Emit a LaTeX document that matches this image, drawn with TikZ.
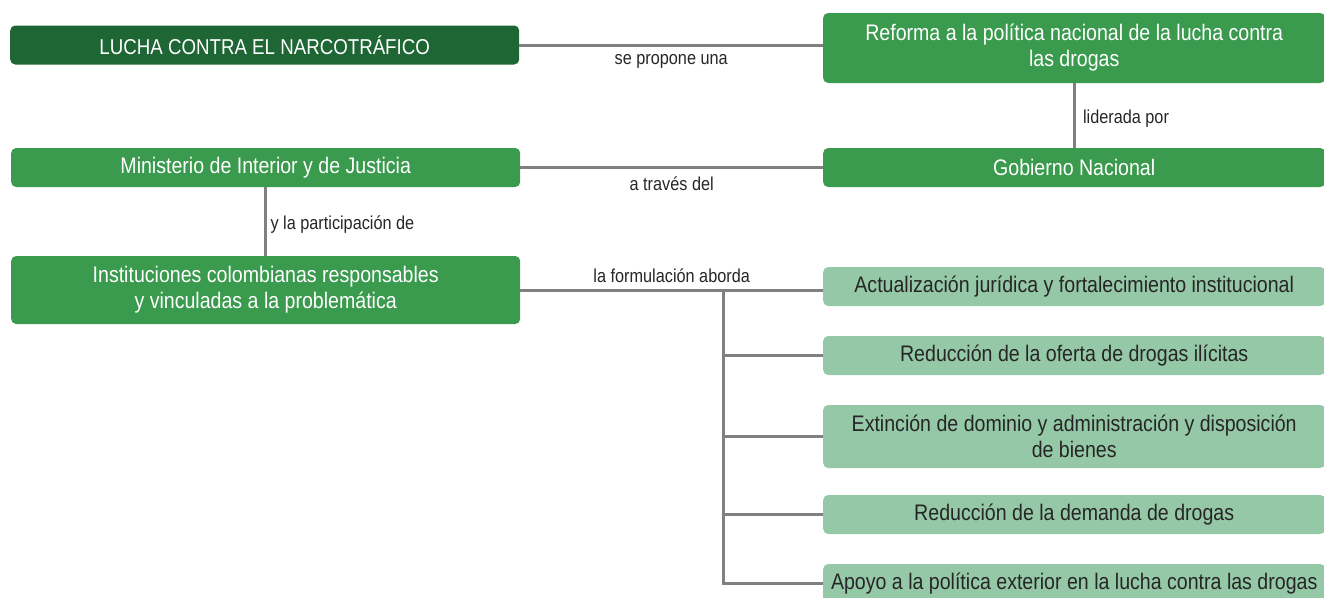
\documentclass[tikz,border=0pt]{standalone}
\usepackage{fontspec}
\setmainfont{Liberation Sans}[FakeStretch=0.87]
\usepackage{tikz}

\definecolor{verdeoscuro}{HTML}{1E6634}
\definecolor{verde}{HTML}{3A9A4D}
\definecolor{verdeclaro}{HTML}{95C8A6}
\definecolor{gris}{HTML}{808080}

\tikzset{
  caja/.style={rounded corners=5pt, minimum height=39pt, minimum width=509pt, inner sep=0pt,
    align=center, font=\fontsize{22.5}{26}\selectfont, text=white, anchor=west},
  cajaoscura/.style={caja, fill=verdeoscuro, font=\fontsize{21.5}{26}\selectfont},
  cajaverde/.style={caja, fill=verde},
  cajaclara/.style={caja, fill=verdeclaro, text=black!85},
  derecha/.style={minimum width=502pt},
  enlace/.style={draw=gris, line width=3pt},
  etiqueta/.style={font=\fontsize{18.7}{22}\selectfont, text=black!85}
}

\begin{document}
\begin{tikzpicture}[x=1pt,y=-1pt]
                \useasboundingbox (0,0) rectangle (1324,597);
                \clip (0,0) rectangle (1324,597);

                % Draw the boxes on the left
                \node[cajaoscura] (lucha) at (10,45) {LUCHA CONTRA EL NARCOTRÁFICO};
                \node[cajaverde] (ministerio) at (11,167.5) {Ministerio de Interior y de Justicia};
                \node[cajaverde, minimum height=68pt] (instituciones) at (11,290) {Instituciones colombianas responsables\\y vinculadas a la problemática};

                % Draw the boxes on the right
                \node[cajaverde, derecha, minimum height=70pt] (reforma) at (823,48) {Reforma a la política nacional de la lucha contra\\las drogas};
                \node[cajaverde, derecha] (gobierno) at (823,167.5) {Gobierno Nacional};

                % Draw the topics
                \node[cajaclara, derecha] (actualizacion) at (823,286.5) {Actualización jurídica y fortalecimiento institucional};
                \node[cajaclara, derecha] (oferta) at (823,355.5) {Reducción de la oferta de drogas ilícitas};
                \node[cajaclara, derecha, minimum height=63pt] (extincion) at (823,436.5) {Extinción de dominio y administración y disposición\\de bienes};
                \node[cajaclara, derecha] (demanda) at (823,514.5) {Reducción de la demanda de drogas};
                \node[cajaclara, derecha] (apoyo) at (823,583.5) {Apoyo a la política exterior en la lucha contra las drogas};

                % Draw the links with their labels
                \draw[enlace] (lucha.east) -- (lucha.east -| reforma.west) node[etiqueta, midway, below=5pt] {se propone una};
                \draw[enlace] (reforma) -- (gobierno) node[etiqueta, midway, right=4pt, yshift=-3pt] {liderada por};
                \draw[enlace] (ministerio) -- (gobierno) node[etiqueta, midway, below=4pt] {a través del};
                \draw[enlace] (ministerio) -- (instituciones) node[etiqueta, midway, right=0pt, yshift=-3pt] {y la participación de};
                \draw[enlace] (instituciones.east) -- (instituciones.east -| actualizacion.west) node[etiqueta, midway, above=2pt] {la formulación aborda};

                % Draw the branches to the topics
                \coordinate (ramal) at (723,290);
                \draw[enlace] (ramal) |- (apoyo.west);
                \foreach \tema in {oferta, extincion, demanda}
                  \draw[enlace] (ramal |- \tema.west) -- (\tema.west);
            \end{tikzpicture}
\end{document}
